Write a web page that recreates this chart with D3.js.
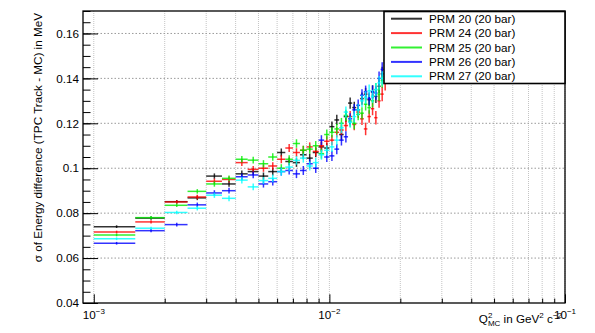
<!DOCTYPE html>
<html>
<head>
<meta charset="utf-8">
<script src="https://cdn.jsdelivr.net/npm/d3@7"></script>
<style>
  body { margin: 0; background: #fff; }
  text { font-family: 'Liberation Sans', Arial, sans-serif; }
</style>
</head>
<body>
<div id="chart"></div>
<script>
// bin centres (Q^2 in GeV^2 c^-2), bins are 0.5e-3 wide
const binCenters = [
  0.00125, 0.00175, 0.00225, 0.00275, 0.00325, 0.00375, 0.00425, 0.00475,
  0.00525, 0.00575, 0.00625, 0.00675, 0.00725, 0.00775, 0.00825, 0.00875,
  0.00925, 0.00975, 0.01025, 0.01075, 0.01125, 0.01175, 0.01225, 0.01275,
  0.01325, 0.01375, 0.01425, 0.01475, 0.01525, 0.01575, 0.01625, 0.01675, 0.01725
];
const binHalfWidth = 0.00025;

const prm20 = [
  0.0740, 0.0778, 0.0851, 0.0868, 0.0965, 0.0930, 0.0975, 0.0985,
  0.0965, 0.0985, 0.1070, 0.1030, 0.1025, 0.1060, 0.1045, 0.1070,
  0.1095, 0.1090, 0.1185, 0.1215, 0.1150, 0.1230, 0.1290, 0.1270,
  0.1260, 0.1310, 0.1330, 0.1305, 0.1340, 0.1320, 0.1365, 0.1420, 0.1480
];
const prm24 = [
  0.0716, 0.0761, 0.0850, 0.0872, 0.0942, 0.0950, 0.1025, 0.0995,
  0.1000, 0.1010, 0.1040, 0.1090, 0.1070, 0.1080, 0.1095, 0.1075,
  0.1100, 0.1120, 0.1125, 0.1160, 0.1170, 0.1190, 0.1230, 0.1195,
  0.1250, 0.1220, 0.1175, 0.1230, 0.1265, 0.1225, 0.1300, 0.1330, 0.1380
];
const prm25 = [
  0.0703, 0.0780, 0.0835, 0.0897, 0.0930, 0.0955, 0.1040, 0.1036,
  0.1020, 0.1050, 0.1000, 0.1040, 0.1110, 0.1080, 0.1085, 0.1100,
  0.1065, 0.1150, 0.1160, 0.1175, 0.1200, 0.1235, 0.1210, 0.1200,
  0.1240, 0.1245, 0.1285, 0.1270, 0.1300, 0.1350, 0.1330, 0.1390, 0.1410
];
const prm26 = [
  0.0666, 0.0722, 0.0749, 0.0837, 0.0890, 0.0900, 0.0962, 0.0970,
  0.0930, 0.0940, 0.0985, 0.0990, 0.0975, 0.0990, 0.1020, 0.1000,
  0.1125, 0.1050, 0.1055, 0.1085, 0.1125, 0.1140, 0.1220, 0.1260,
  0.1280, 0.1325, 0.1340, 0.1310, 0.1340, 0.1335, 0.1400, 0.1440, 0.1470
];
const prm27 = [
  0.0686, 0.0733, 0.0803, 0.0822, 0.0880, 0.0866, 0.0947, 0.0917,
  0.0945, 0.0955, 0.0985, 0.1005, 0.1035, 0.1045, 0.1010, 0.1025,
  0.1060, 0.1080, 0.1095, 0.1125, 0.1180, 0.1250, 0.1205, 0.1230,
  0.1260, 0.1300, 0.1315, 0.1345, 0.1320, 0.1350, 0.1380, 0.1400, 0.1420
];
const yErrors = [
  0.0006, 0.0007, 0.0008, 0.0010, 0.0012, 0.0013, 0.0015, 0.0015,
  0.0016, 0.0017, 0.0018, 0.0018, 0.0019, 0.0020, 0.0020, 0.0021,
  0.0022, 0.0022, 0.0023, 0.0023, 0.0024, 0.0025, 0.0025, 0.0026,
  0.0026, 0.0027, 0.0028, 0.0028, 0.0029, 0.0030, 0.0031, 0.0032, 0.0034
];

const seriesNames = ['PRM 20 (20 bar)', 'PRM 24 (20 bar)', 'PRM 25 (20 bar)', 'PRM 26 (20 bar)', 'PRM 27 (20 bar)'];
const seriesValues = [prm20, prm24, prm25, prm26, prm27];
const seriesColors = ['#000000', '#ff0000', '#00ee00', '#0000ff', '#00ffff'];

const yTickValues = [0.04, 0.06, 0.08, 0.1, 0.12, 0.14, 0.16];
const xMajorTicks = [1e-3, 1e-2, 1e-1];
const xTickExponents = ['-3', '-2', '-1'];

const width = 595;
const height = 333;
const frame = { left: 83, right: 565, top: 11, bottom: 303 };

const svg = d3.select('#chart')
  .append('svg')
  .attr('width', width)
  .attr('height', height)
  .style('background', '#fff');

const xScale = d3.scaleLog()
  .domain([0.0009, 0.1])
  .range([frame.left, frame.right]);

const yScale = d3.scaleLinear()
  .domain([0.04, 0.17])
  .range([frame.bottom, frame.top]);

// log minor positions 1..9 x decade
const xAllTicks = [];
[1e-3, 1e-2].forEach(dec => {
  for (let k = 1; k <= 9; k++) xAllTicks.push(k * dec);
});
xAllTicks.push(1e-1);
const xMinorTicks = xAllTicks.filter(v => xMajorTicks.indexOf(v) < 0);
const yMinorTicks = d3.range(0, 27).map(i => 0.04 + i * 0.005).filter(v => v <= 0.1701);

// grid
const grid = svg.append('g').classed('grid', true);
grid.selectAll('line.vx')
  .data(xAllTicks)
  .enter().append('line')
  .attr('x1', d => xScale(d)).attr('x2', d => xScale(d))
  .attr('y1', frame.top).attr('y2', frame.bottom)
  .attr('stroke', '#c4c4c4')
  .attr('stroke-dasharray', '1,1');
grid.selectAll('line.hy')
  .data(yTickValues.slice(1))
  .enter().append('line')
  .attr('x1', frame.left).attr('x2', frame.right)
  .attr('y1', d => yScale(d)).attr('y2', d => yScale(d))
  .attr('stroke', '#9a9a9a')
  .attr('stroke-dasharray', '1.5,2');

// data: error-bar crosses
const marks = svg.append('g').classed('marks', true);
seriesValues.forEach((vals, s) => {
  const pts = vals.map((v, i) => ({ x: binCenters[i], y: v, e: yErrors[i] }));
  const g = marks.append('g')
    .attr('stroke', seriesColors[s])
    .attr('stroke-width', 1.5)
    .attr('stroke-opacity', 0.8);
  g.selectAll('line.h')
    .data(pts)
    .enter().append('line')
    .attr('x1', d => xScale(d.x - binHalfWidth))
    .attr('x2', d => xScale(d.x + binHalfWidth))
    .attr('y1', d => yScale(d.y))
    .attr('y2', d => yScale(d.y));
  g.selectAll('line.v')
    .data(pts)
    .enter().append('line')
    .attr('x1', d => xScale(d.x))
    .attr('x2', d => xScale(d.x))
    .attr('y1', d => yScale(d.y - d.e))
    .attr('y2', d => yScale(d.y + d.e));
});

// axes, ROOT style ticks pointing inwards
const yAxis = d3.axisLeft(yScale)
  .tickValues(yTickValues)
  .tickFormat(d => String(d))
  .tickSizeInner(-15)
  .tickSizeOuter(0)
  .tickPadding(4);
const yAxisG = svg.append('g')
  .attr('transform', `translate(${frame.left},0)`)
  .call(yAxis);
yAxisG.select('.domain').remove();
yAxisG.selectAll('text')
  .attr('font-size', 11.7)
  .attr('fill', '#000');

const yMinor = svg.append('g')
  .attr('transform', `translate(${frame.left},0)`)
  .call(d3.axisLeft(yScale).tickValues(yMinorTicks).tickFormat('').tickSizeInner(-7.5).tickSizeOuter(0));
yMinor.select('.domain').remove();

const xAxis = d3.axisBottom(xScale)
  .tickValues(xMajorTicks)
  .tickFormat('')
  .tickSizeInner(-8.7)
  .tickSizeOuter(0);
const xAxisG = svg.append('g')
  .attr('transform', `translate(0,${frame.bottom})`)
  .call(xAxis);
xAxisG.select('.domain').remove();

const xMinor = svg.append('g')
  .attr('transform', `translate(0,${frame.bottom})`)
  .call(d3.axisBottom(xScale).tickValues(xMinorTicks).tickFormat('').tickSizeInner(-4.4).tickSizeOuter(0));
xMinor.select('.domain').remove();

// x tick labels 10^n
const xLabels = svg.append('g').classed('x-labels', true);
xMajorTicks.forEach((v, i) => {
  const t = xLabels.append('text')
    .attr('x', xScale(v))
    .attr('y', frame.bottom + 15.5)
    .attr('text-anchor', 'middle')
    .attr('font-size', 11.7);
  t.append('tspan').text('10');
  t.append('tspan').attr('dy', -5).attr('font-size', 8).text('\u2212' + xTickExponents[i].slice(1));
});

// frame
svg.append('rect')
  .attr('x', frame.left)
  .attr('y', frame.top)
  .attr('width', frame.right - frame.left)
  .attr('height', frame.bottom - frame.top)
  .attr('fill', 'none')
  .attr('stroke', '#000')
  .attr('stroke-width', 1.3);

// axis titles
svg.append('text')
  .attr('transform', `translate(42,13) rotate(-90)`)
  .attr('text-anchor', 'end')
  .attr('font-size', 11.7)
  .text('\u03c3 of Energy difference (TPC Track - MC) in MeV');

const xTitle = svg.append('text')
  .attr('x', 562)
  .attr('y', 323)
  .attr('text-anchor', 'end')
  .attr('font-size', 11.7);
xTitle.append('tspan').text('Q');
xTitle.append('tspan').attr('font-size', 8).attr('dy', -5).text('2');
xTitle.append('tspan').attr('font-size', 8).attr('dx', -4.5).attr('dy', 8).text('MC');
xTitle.append('tspan').attr('dy', -3).text(' in GeV');
xTitle.append('tspan').attr('font-size', 8).attr('dy', -5).text('2');
xTitle.append('tspan').attr('dy', 5).text(' c');
xTitle.append('tspan').attr('font-size', 8).attr('dy', -5).text('\u22122');

// legend
const legend = svg.append('g').classed('legend', true);
legend.append('rect')
  .attr('x', 384).attr('y', 11.5)
  .attr('width', 181).attr('height', 72)
  .attr('fill', '#fff')
  .attr('stroke', '#000')
  .attr('stroke-width', 1.6);
const rowY = d3.scaleBand().domain(seriesNames).range([11.5, 83.5]);
seriesNames.forEach((name, i) => {
  const cy = rowY(name) + rowY.bandwidth() / 2;
  legend.append('line')
    .attr('x1', 391).attr('x2', 422)
    .attr('y1', cy).attr('y2', cy)
    .attr('stroke', seriesColors[i])
    .attr('stroke-width', 2)
    .attr('stroke-opacity', 0.8);
  legend.append('text')
    .attr('x', 429)
    .attr('y', cy + 4)
    .attr('font-size', 11.7)
    .text(name);
});
</script>
</body>
</html>
